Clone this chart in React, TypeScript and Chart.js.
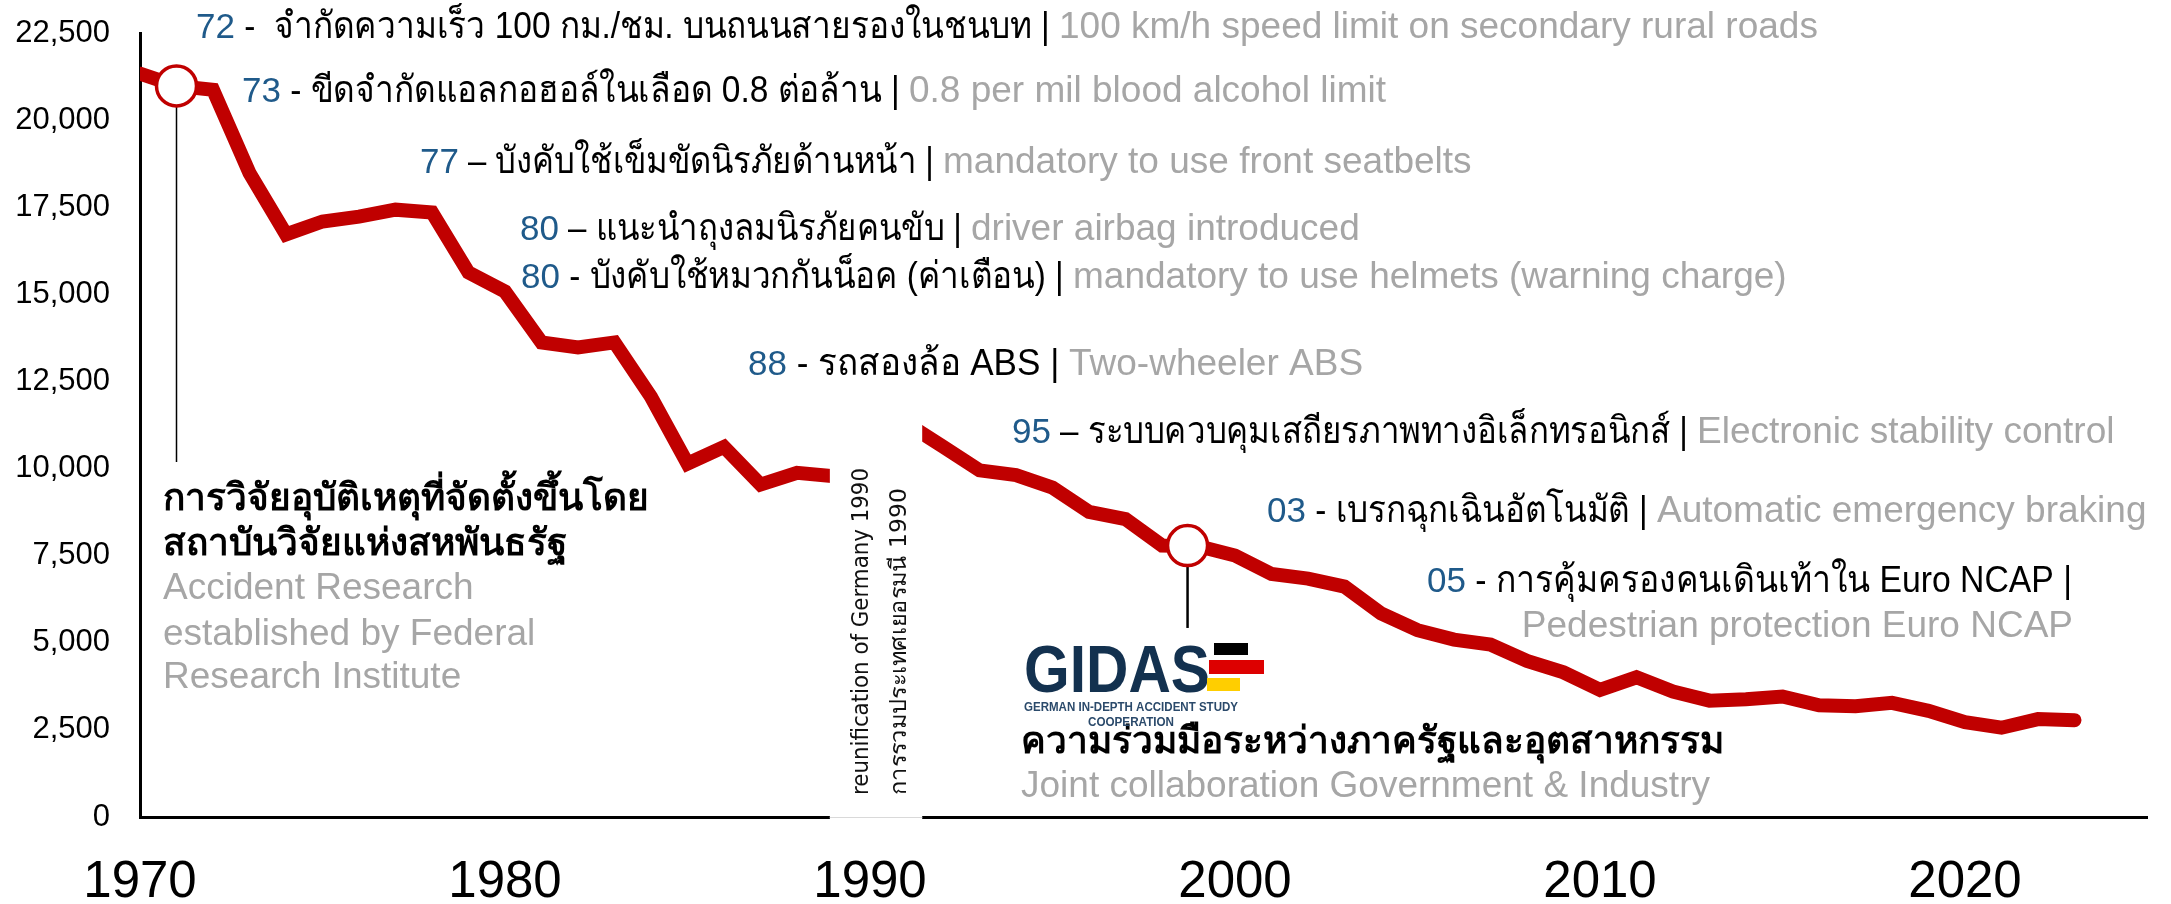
import React, { useEffect, useRef } from "react";
import { Chart, registerables } from "chart.js";

Chart.register(...registerables);

// ---------- data ----------
const years = [
  1970, 1971, 1972, 1973, 1974, 1975, 1976, 1977, 1978, 1979,
  1980, 1981, 1982, 1983, 1984, 1985, 1986, 1987, 1988, 1989,
  1990, 1991, 1992, 1993, 1994, 1995, 1996, 1997, 1998, 1999,
  2000, 2001, 2002, 2003, 2004, 2005, 2006, 2007, 2008, 2009,
  2010, 2011, 2012, 2013, 2014, 2015, 2016, 2017, 2018, 2019,
  2020, 2021, 2022, 2023,
];
const fatalities = [
  21332, 20980, 20870, 18480, 16720, 17090, 17230, 17430, 17350, 15625,
  15080, 13620, 13475, 13620, 12060, 10140, 10620, 9540, 9880, 9780,
  11046, 11300, 10631, 9949, 9814, 9454, 8758, 8549, 7792, 7772,
  7503, 6977, 6842, 6613, 5842, 5361, 5091, 4949, 4477, 4152,
  3648, 4009, 3600, 3339, 3377, 3459, 3206, 3180, 3275, 3046,
  2719, 2562, 2810, 2780,
];
const xTickYears = [1970, 1980, 1990, 2000, 2010, 2020];
const yTickStep = 2500;
const yMax = 22500;
const xMin = 1970;
const xMax = 2025;

// milestone circles (year, value) and where their connector lines end (value)
const milestoneYears = [1971, 1998.7];
const milestoneValues = [20980, 7790];
const connectorEndValues = [10190, 5425];

// years hidden behind the reunification box
const gapYears = [1988.9, 1991.43];

// ---------- styling ----------
const FONT = '"Liberation Sans", Arial, "Noto Sans", sans-serif';
const RED = "#C00000";
const BLUE = "#1F5A8A";
const BLACK = "#000000";
const GREY = "#A6A6A6";
const NAVY = "#13314F";

type Ann = {
  x: number;
  y: number;
  num?: string;
  body?: string;
  bodyEnd?: number;
  grey?: string;
  greyX?: number;
  align?: "right";
  bold?: boolean;
};

const annotations: Ann[] = [
  { x: 196, y: 38, num: "72", body: " -  จำกัดความเร็ว 100 กม./ชม. บนถนนสายรองในชนบท | ", bodyEnd: 1059, grey: "100 km/h speed limit on secondary rural roads" },
  { x: 242, y: 102, num: "73", body: " - ขีดจำกัดแอลกอฮอล์ในเลือด 0.8 ต่อล้าน | ", bodyEnd: 909, grey: "0.8 per mil blood alcohol limit" },
  { x: 420, y: 173, num: "77", body: " – บังคับใช้เข็มขัดนิรภัยด้านหน้า | ", bodyEnd: 943, grey: "mandatory to use front seatbelts" },
  { x: 520, y: 240, num: "80", body: " – แนะนำถุงลมนิรภัยคนขับ | ", bodyEnd: 971, grey: "driver airbag introduced" },
  { x: 521, y: 288, num: "80", body: " - บังคับใช้หมวกกันน็อค (ค่าเตือน) | ", bodyEnd: 1073, grey: "mandatory to use helmets (warning charge)" },
  { x: 748, y: 375, num: "88", body: " - รถสองล้อ ABS | ", bodyEnd: 1069, grey: "Two-wheeler ABS" },
  { x: 1012, y: 443, num: "95", body: " – ระบบควบคุมเสถียรภาพทางอิเล็กทรอนิกส์ | ", bodyEnd: 1697, grey: "Electronic stability control" },
  { x: 1267, y: 522, num: "03", body: " - เบรกฉุกเฉินอัตโนมัติ | ", bodyEnd: 1657, grey: "Automatic emergency braking" },
  { x: 1427, y: 592, num: "05", body: " - การคุ้มครองคนเดินเท้าใน Euro NCAP |", bodyEnd: 2072 },
  { x: 2073, y: 637, align: "right", grey: "Pedestrian protection Euro NCAP" },
  // left block
  { x: 163, y: 510, bold: true, body: "การวิจัยอุบัติเหตุที่จัดตั้งขึ้นโดย" },
  { x: 163, y: 555, bold: true, body: "สถาบันวิจัยแห่งสหพันธรัฐ" },
  { x: 163, y: 599, grey: "Accident Research" },
  { x: 163, y: 645, grey: "established by Federal" },
  { x: 163, y: 688, grey: "Research Institute" },
  // GIDAS block
  { x: 1021, y: 753, bold: true, body: "ความร่วมมือระหว่างภาครัฐและอุตสาหกรรม" },
  { x: 1021, y: 797, grey: "Joint collaboration Government & Industry" },
];

const reunificationLines = ["reunification of Germany 1990", "การรวมประเทศเยอรมนี 1990"];
const reunificationLengths = [327, 307];

const annotationPlugin = {
  id: "annotations",
  beforeDatasetsDraw(chart: any) {
    const ctx = chart.ctx as CanvasRenderingContext2D;
    const xs = chart.scales.x;
    const ys = chart.scales.y;
    ctx.save();
    ctx.strokeStyle = "#000";
    milestoneYears.forEach((yr, i) => {
      const px = xs.getPixelForValue(yr);
      const py = ys.getPixelForValue(milestoneValues[i]);
      const pyEnd = ys.getPixelForValue(connectorEndValues[i]);
      ctx.lineWidth = i === 0 ? 1.5 : 2.5;
      ctx.beginPath();
      ctx.moveTo(px, py);
      ctx.lineTo(px, pyEnd);
      ctx.stroke();
    });
    ctx.restore();
  },
  afterDatasetsDraw(chart: any) {
    const ctx = chart.ctx as CanvasRenderingContext2D;
    const xs = chart.scales.x;
    const area = chart.chartArea;
    ctx.save();

    // reunification gap box
    const gx1 = xs.getPixelForValue(gapYears[0]);
    const gx2 = xs.getPixelForValue(gapYears[1]);
    ctx.fillStyle = "#FFFFFF";
    ctx.fillRect(gx1, area.top, gx2 - gx1, area.bottom - area.top + 3);
    ctx.strokeStyle = "#D9D9D9";
    ctx.lineWidth = 1;
    ctx.beginPath();
    ctx.moveTo(gx1, area.bottom + 0.5);
    ctx.lineTo(gx2, area.bottom + 0.5);
    ctx.stroke();

    // rotated text
    ctx.fillStyle = "#111";
    ctx.font = '23px "DejaVu Sans", "Liberation Sans", sans-serif';
    ctx.textBaseline = "alphabetic";
    ctx.textAlign = "left";
    const baseX = [868, 906];
    reunificationLines.forEach((t, i) => {
      const w = ctx.measureText(t).width;
      ctx.save();
      ctx.translate(baseX[i], 795);
      ctx.rotate(-Math.PI / 2);
      ctx.scale(reunificationLengths[i] / w, 1);
      ctx.fillText(t, 0, 0);
      ctx.restore();
    });

    // annotation lines
    annotations.forEach((a) => {
      ctx.textBaseline = "alphabetic";
      ctx.textAlign = "left";
      const base = `${a.bold ? "bold " : ""}37px ${FONT}`;
      ctx.font = base;
      let cursor = a.x;
      if (a.align === "right" && a.grey) {
        cursor = a.x - ctx.measureText(a.grey).width;
      }
      if (a.num) {
        ctx.font = `35px ${FONT}`;
        ctx.fillStyle = BLUE;
        ctx.fillText(a.num, cursor, a.y);
        cursor += ctx.measureText(a.num).width;
        ctx.font = base;
      }
      if (a.body) {
        ctx.fillStyle = BLACK;
        const w = ctx.measureText(a.body).width;
        if (a.bodyEnd !== undefined) {
          const s = (a.bodyEnd - cursor) / w;
          ctx.save();
          ctx.translate(cursor, a.y);
          ctx.scale(s, 1);
          ctx.fillText(a.body, 0, 0);
          ctx.restore();
          cursor = a.bodyEnd;
        } else {
          ctx.fillText(a.body, cursor, a.y);
          cursor += w;
        }
      }
      if (a.grey) {
        ctx.fillStyle = GREY;
        ctx.fillText(a.grey, a.greyX ?? cursor, a.y);
      }
    });

    // GIDAS logo (text + flag bars)
    ctx.fillStyle = NAVY;
    ctx.font = `bold 66px ${FONT}`;
    const gw = ctx.measureText("GIDAS").width;
    ctx.save();
    ctx.translate(1024, 692);
    ctx.scale(186 / gw, 1);
    ctx.fillText("GIDAS", 0, 0);
    ctx.restore();
    ctx.fillStyle = "#000000";
    ctx.fillRect(1214, 643, 34, 12);
    ctx.fillStyle = "#DD0000";
    ctx.fillRect(1209, 660, 55, 14);
    ctx.fillStyle = "#FFCE00";
    ctx.fillRect(1207, 678, 33, 13);
    ctx.fillStyle = "#2B4A6B";
    ctx.font = `bold 12px ${FONT}`;
    ctx.fillText("GERMAN IN-DEPTH ACCIDENT STUDY", 1024, 711, 214);
    ctx.textAlign = "center";
    ctx.fillText("COOPERATION", 1131, 726, 86);

    ctx.restore();
  },
};

export default function App() {
  const ref = useRef<HTMLCanvasElement | null>(null);
  useEffect(() => {
    if (!ref.current) return;
    const linePoints = years.map((yr, i) => ({ x: yr, y: fatalities[i] }));
    const circlePoints = milestoneYears.map((yr, i) => ({ x: yr, y: milestoneValues[i] }));
    const chart = new Chart(ref.current, {
      type: "line",
      data: {
        datasets: [
          {
            data: circlePoints,
            showLine: false,
            pointRadius: 20,
            pointBorderWidth: 3.5,
            pointBackgroundColor: "#FFFFFF",
            pointBorderColor: RED,
            order: 0,
            clip: false,
          } as any,
          {
            data: linePoints,
            borderColor: RED,
            borderWidth: 14,
            borderJoinStyle: "miter",
            borderCapStyle: "round",
            pointRadius: 0,
            tension: 0,
            order: 1,
            clip: 0,
          } as any,
        ],
      },
      options: {
        responsive: false,
        animation: false,
        events: [],
        layout: { padding: { top: 33, right: 13, left: 0, bottom: 0 } },
        plugins: { legend: { display: false }, tooltip: { enabled: false } },
        scales: {
          x: {
            type: "linear",
            min: xMin,
            max: xMax,
            grid: { display: false, drawTicks: false },
            border: { display: true, color: "#000", width: 3 },
            ticks: {
              stepSize: 10,
              autoSkip: false,
              maxRotation: 0,
              color: "#000",
              padding: 35,
              font: { size: 51, family: FONT },
              callback: (v: any) => String(v),
            },
            afterBuildTicks: (s: any) => {
              s.ticks = xTickYears.map((v) => ({ value: v }));
            },
            afterFit: (s: any) => {
              s.height = 87;
              s.paddingLeft = 0;
              s.paddingRight = 0;
            },
          },
          y: {
            min: 0,
            max: yMax,
            grid: { display: false, drawTicks: false },
            border: { display: true, color: "#000", width: 3 },
            ticks: {
              stepSize: yTickStep,
              color: "#000",
              padding: 30,
              font: { size: 31, family: FONT },
            },
            afterFit: (s: any) => {
              s.width = 140;
              s.paddingTop = 0;
              s.paddingBottom = 0;
            },
          },
        },
      },
      plugins: [annotationPlugin],
    });
    return () => chart.destroy();
  }, []);
  return (
    <div style={{ position: "absolute", left: 0, top: 0, width: 2171, height: 904, background: "#fff" }}>
      <canvas ref={ref} width={2171} height={904} style={{ width: 2171, height: 904, display: "block" }} />
    </div>
  );
}
